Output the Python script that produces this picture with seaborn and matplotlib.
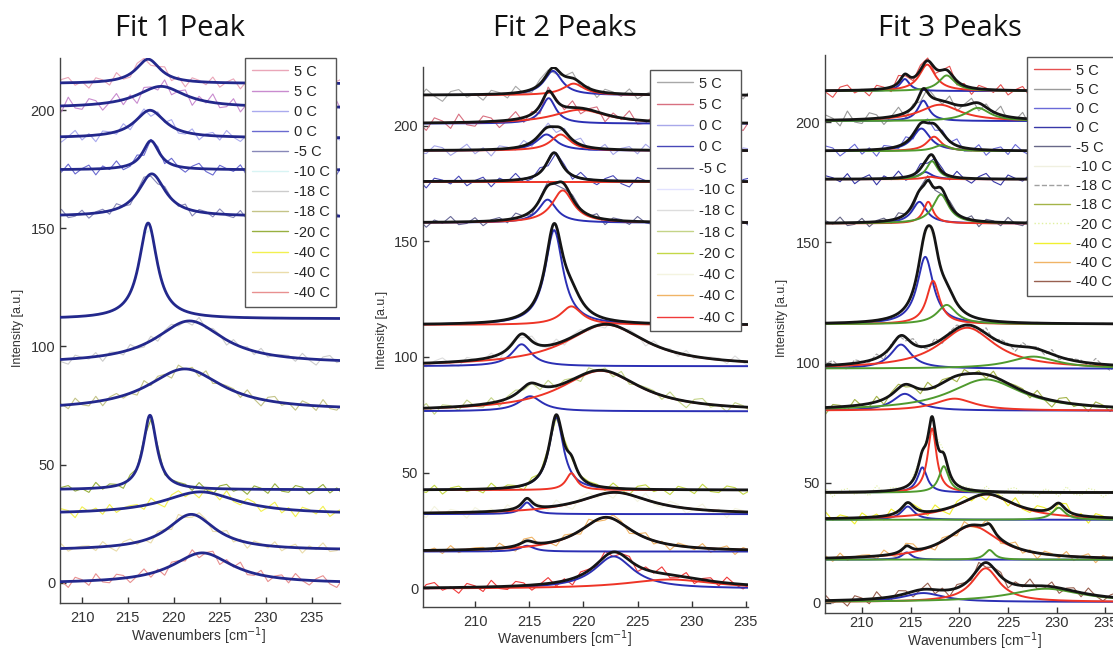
import numpy as np
import matplotlib
matplotlib.use("Agg")
import matplotlib.pyplot as plt
import seaborn as sns
from matplotlib.lines import Line2D

# ---------------- data ----------------
labels = ["5 C", "5 C", "0 C", "0 C", "-5 C", "-10 C", "-18 C", "-18 C",
          "-20 C", "-40 C", "-40 C", "-40 C"]
x_ticks = [210, 215, 220, 225, 230, 235]
y_ticks = [0, 50, 100, 150, 200]

# Fit 1 peak: baseline, centre, amplitude, half width
p1_base = [211.2, 201.0, 188.2, 174.7, 155.0, 111.7, 92.8, 73.0, 39.4, 29.0, 13.8, -0.3]
p1_c = [217.2, 218.6, 217.4, 217.5, 217.6, 217.2, 221.7, 221.2, 217.4, 222.9, 221.9, 223.1]
p1_a = [10.3, 9.0, 11.7, 12.3, 18.0, 40.5, 18.0, 17.5, 31.5, 9.5, 15.2, 13.0]
p1_w = [1.6, 3.2, 2.0, 1.1, 1.8, 1.2, 4.5, 5.0, 0.9, 5.0, 3.2, 4.0]

# Fit 2 peaks
p2_base = [213.3, 201.0, 189.3, 175.9, 158.1, 113.9, 96.0, 76.5, 42.4, 32.0, 15.8, -0.3]
p2_bc = [217.2, 216.8, 216.6, 217.3, 216.7, 217.3, 214.3, 215.1, 217.5, 214.8, 214.8, 222.8]
p2_ba = [10.5, 11.0, 7.0, 12.5, 10.0, 41.0, 9.5, 6.5, 31.5, 5.0, 2.5, 14.0]
p2_bw = [1.0, 0.8, 1.1, 0.9, 1.0, 1.0, 1.1, 1.3, 0.8, 0.6, 0.8, 2.2]
p2_rc = [219.1, 219.7, 217.9, 218.0, 218.1, 218.9, 222.1, 221.6, 218.9, 222.9, 222.1, 228.0]
p2_ra = [5.0, 6.0, 7.0, 0.0, 14.0, 8.0, 18.0, 17.5, 7.3, 9.4, 14.8, 4.0]
p2_rw = [1.2, 3.0, 1.1, 1.0, 1.2, 1.2, 4.5, 4.5, 0.6, 4.0, 3.0, 5.0]

# Fit 3 peaks
p3_base = [213.0, 200.5, 188.0, 176.3, 157.9, 116.0, 97.5, 80.0, 45.9, 34.6, 18.0, 0.4]
p3_bc = [214.4, 216.3, 216.1, 216.5, 215.9, 216.5, 214.0, 214.4, 216.2, 214.7, 214.6, 216.3]
p3_ba = [5.0, 8.5, 9.4, 3.0, 9.0, 28.0, 10.0, 7.0, 10.5, 5.5, 3.0, 3.7]
p3_bw = [0.6, 0.7, 1.1, 0.8, 0.9, 1.0, 1.3, 1.5, 0.6, 0.8, 0.6, 2.5]
p3_rc = [216.7, 218.0, 217.4, 217.0, 216.8, 217.3, 220.8, 219.5, 217.2, 222.8, 221.3, 222.7]
p3_ra = [11.0, 6.8, 6.0, 1.0, 9.0, 18.0, 17.0, 5.0, 26.7, 10.6, 14.0, 14.0]
p3_rw = [1.0, 2.5, 0.9, 0.8, 0.6, 0.8, 3.5, 2.5, 0.55, 3.5, 3.3, 1.7]
p3_gc = [218.7, 221.9, 218.2, 217.2, 218.1, 218.7, 227.6, 222.7, 218.4, 230.2, 223.1, 228.9]
p3_ga = [6.5, 5.5, 2.5, 7.5, 12.0, 8.0, 5.0, 13.0, 11.0, 5.0, 4.0, 5.5]
p3_gw = [1.0, 1.5, 1.0, 0.7, 1.0, 1.2, 3.0, 4.5, 0.6, 0.8, 0.6, 4.5]

# residual pattern of the measured spectra (read by eye), per-spectrum scale and phase
resid = [0.3, -0.6, 0.9, -0.2, -1.0, 0.5, 0.8, -0.4, 0.1, -0.9, 0.6, 0.2, -0.7, 1.0, -0.3,
         -0.5, 0.7, 0.4, -0.8, 0.0, 0.9, -0.6, 0.3, -1.0, 0.5, 0.2, -0.4, 0.8, -0.7, 0.1,
         0.6, -0.9, 0.4, -0.2, 1.0, -0.5, -0.3, 0.7, -0.8, 0.2, 0.5, -0.6, 0.9, -0.1, -0.7,
         0.3, 0.8, -0.4, -0.9, 0.6, 0.1, -0.3, 0.7, -1.0, 0.4, 0.2, -0.6, 0.9, -0.2, -0.5,
         0.8, -0.8, 0.3, 0.6, -0.4, 0.0, -0.7, 1.0, -0.3, 0.5, 0.2, -0.9, 0.7, -0.1, 0.4,
         -0.6, 0.8, -0.5, 0.1, 0.3]
resid_amp = [2.8, 3.6, 2.8, 2.8, 2.4, 0.5, 2.4, 2.8, 2.4, 2.8, 2.4, 2.8]
resid_shift = [0, 7, 13, 21, 29, 35, 42, 50, 57, 64, 71, 3]

raw_colors1 = ["#eaa6b8", "#c98ccf", "#aaaaee", "#6a6ad0", "#8888b8", "#d8f4f4",
               "#cccccc", "#c4c488", "#98b040", "#f2f050", "#eadcaa", "#e89090"]
raw_colors2 = ["#a8a8a8", "#d87080", "#a8a8ea", "#4848b8", "#6a6a98", "#e2e2ff",
               "#dddddd", "#c4d488", "#c4d848", "#f4f4e0", "#f0b466", "#f03a3a"]
raw_colors3 = ["#e65050", "#9a9a9a", "#6a6ad8", "#3838a8", "#686888", "#f0f0e0",
               "#a0a0a0", "#a4b448", "#e0f0a0", "#f0f030", "#f0b466", "#986050"]
raw_styles3 = ["-"] * 6 + ["--", "-", ":", "-", "-", "-"]

# ---------------- helpers ----------------
W, H = 1113, 651


def lor(x, c, a, w):
    return a / (1.0 + ((x - c) / w) ** 2)


xf = np.arange(204.0, 239.0, 0.05)
xr = np.arange(204.0, 239.0, 0.75)

sns.set_style("white")
plt.rcParams["font.family"] = ["Liberation Sans", "DejaVu Sans"]

fig = plt.figure(figsize=(W / 100, H / 100), dpi=100)


def add_ax(l, r, t, b):
    return fig.add_axes([l / W, 1 - b / H, (r - l) / W, (b - t) / H])


def style_ax(ax, xlim, ylim, xpad=6):
    ax.set_xlim(*xlim)
    ax.set_ylim(*ylim)
    ax.set_xticks(x_ticks)
    ax.set_yticks(y_ticks)
    for s in ["top", "right"]:
        ax.spines[s].set_visible(False)
    for s in ["left", "bottom"]:
        ax.spines[s].set_color("#444444")
        ax.spines[s].set_linewidth(1.0)
    ax.tick_params(direction="in", length=4, labelsize=10.5, colors="#333333",
                   left=True, bottom=True, width=1)
    ax.tick_params(axis="x", pad=xpad)
    ax.set_xlabel("")
    ax.set_ylabel("")


def line(ax, x, y, color, lw, z, ls="-"):
    sns.lineplot(x=x, y=y, ax=ax, color=color, lw=lw, zorder=z, linestyle=ls,
                 estimator=None, sort=False, legend=False)


def add_legend(ax, colors, styles, l, t, fs=10.5, spacing=0.42):
    handles = [Line2D([], [], color=c, lw=1.0, ls=s) for c, s in zip(colors, styles)]
    leg = ax.legend(handles, labels, loc="upper left",
                    bbox_to_anchor=(l / W, 1 - t / H), bbox_transform=fig.transFigure,
                    fontsize=fs, frameon=True, fancybox=False, framealpha=1,
                    edgecolor="#555555", handlelength=2.5, handletextpad=0.4,
                    labelspacing=spacing, borderpad=0.45, borderaxespad=0)
    leg.get_frame().set_linewidth(1.0)
    leg.set_zorder(10)


NAVY = "#23288c"
BLUE = "#2b2fb4"
RED = "#ee3426"
GREEN = "#4f9a2e"
BLACK = "#151515"

# ---------------- panel 1 ----------------
ax1 = add_ax(60, 340, 58, 603)
for i in range(12):
    fit = p1_base[i] + lor(xf, p1_c[i], p1_a[i], p1_w[i])
    fr = p1_base[i] + lor(xr, p1_c[i], p1_a[i], p1_w[i])
    noise = resid_amp[i] * np.take(resid, np.arange(len(xr)) + resid_shift[i], mode="wrap")
    line(ax1, xr, fr + noise, raw_colors1[i], 0.8, 1)
    line(ax1, xf, fit, NAVY, 2.0, 3)
style_ax(ax1, (207.6, 238.1), (-8.5, 222))
add_legend(ax1, raw_colors1, ["-"] * 12, 245, 58)

# ---------------- panel 2 ----------------
ax2 = add_ax(423, 748, 67, 607)
for i in range(12):
    b = p2_base[i]
    blue = lor(xf, p2_bc[i], p2_ba[i], p2_bw[i])
    red = lor(xf, p2_rc[i], p2_ra[i], p2_rw[i])
    fr = b + lor(xr, p2_bc[i], p2_ba[i], p2_bw[i]) + lor(xr, p2_rc[i], p2_ra[i], p2_rw[i])
    noise = resid_amp[i] * np.take(resid, np.arange(len(xr)) + resid_shift[i], mode="wrap")
    line(ax2, xr, fr + noise, raw_colors2[i], 0.8, 1)
    line(ax2, xf, b + blue, BLUE, 1.4, 2)
    line(ax2, xf, b + red, RED, 1.4, 2)
    line(ax2, xf, b + blue + red, BLACK, 2.0, 3)
style_ax(ax2, (205.2, 235.2), (-8.2, 225.5))
add_legend(ax2, raw_colors2, ["-"] * 12, 650, 70, spacing=0.5)

# ---------------- panel 3 ----------------
ax3 = add_ax(825, 1120, 55, 613)
for i in range(12):
    b = p3_base[i]
    blue = lor(xf, p3_bc[i], p3_ba[i], p3_bw[i])
    red = lor(xf, p3_rc[i], p3_ra[i], p3_rw[i])
    green = lor(xf, p3_gc[i], p3_ga[i], p3_gw[i])
    fr = (b + lor(xr, p3_bc[i], p3_ba[i], p3_bw[i]) + lor(xr, p3_rc[i], p3_ra[i], p3_rw[i])
          + lor(xr, p3_gc[i], p3_ga[i], p3_gw[i]))
    noise = resid_amp[i] * np.take(resid, np.arange(len(xr)) + resid_shift[i], mode="wrap")
    line(ax3, xr, fr + noise, raw_colors3[i], 0.8, 1, raw_styles3[i])
    line(ax3, xf, b + blue, BLUE, 1.4, 2)
    line(ax3, xf, b + red, RED, 1.4, 2)
    line(ax3, xf, b + green, GREEN, 1.4, 2)
    line(ax3, xf, b + blue + red + green, BLACK, 2.0, 3)
style_ax(ax3, (206.2, 236.5), (-4.2, 228), xpad=2)
add_legend(ax3, raw_colors3, raw_styles3, 1027, 57, spacing=0.36)

# ---------------- texts ----------------
title_font = ["Open Sans", "DejaVu Sans"]
for txt, xc in [("Fit 1 Peak", 180), ("Fit 2 Peaks", 565), ("Fit 3 Peaks", 950)]:
    fig.text(xc / W, 1 - 29 / H, txt, ha="center", va="center", fontsize=21,
             family=title_font, color="#111111")
for xc, yc in [(18, 328), (382, 330), (782, 318)]:
    fig.text(xc / W, 1 - yc / H, "Intensity [a.u.]", rotation=90, ha="center",
             va="center", fontsize=9, color="#333333")
for xc, yc in [(199, 636), (565, 639), (975, 641)]:
    fig.text(xc / W, 1 - yc / H, "Wavenumbers [cm$^{-1}$]", ha="center", va="center",
             fontsize=10, color="#333333")

fig.savefig("out.png", dpi=100)
